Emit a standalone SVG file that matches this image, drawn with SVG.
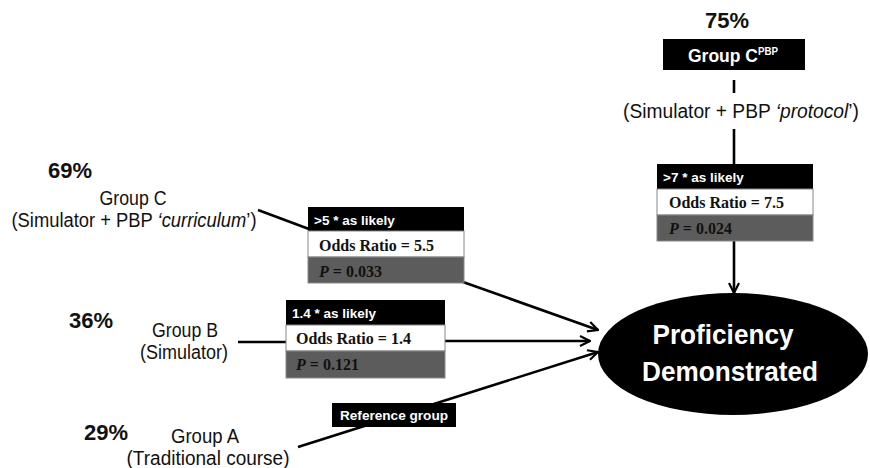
<svg xmlns="http://www.w3.org/2000/svg" width="870" height="468" viewBox="0 0 870 468">
<defs>
<marker id="arr" viewBox="0 0 12 12" refX="11" refY="6" markerWidth="12" markerHeight="12" markerUnits="userSpaceOnUse" orient="auto">
<path d="M1,1 L11,6 L1,11" fill="none" stroke="#000" stroke-width="2.2"/>
</marker>
<style>
.pct{font-family:"Liberation Sans",Arial,sans-serif;font-weight:bold;font-size:22px;fill:#111}
.lbl{font-family:"Liberation Sans",Arial,sans-serif;font-size:20px;fill:#111}
.hdr{font-family:"Liberation Sans",Arial,sans-serif;font-weight:bold;font-size:13.5px;fill:#fff}
.or{font-family:"Liberation Serif","Times New Roman",serif;font-weight:bold;font-size:16px;fill:#111}
.pv{font-family:"Liberation Serif","Times New Roman",serif;font-weight:bold;font-size:16px;fill:#111}
.blk{fill:#000}
.wht{fill:#fff;stroke:#888;stroke-width:1}
.gry{fill:#5c5c5c;stroke:#888;stroke-width:1}
.conn{stroke:#000;stroke-width:2.6;fill:none}
.big{font-family:"Liberation Sans",Arial,sans-serif;font-weight:bold;font-size:28px;fill:#fff}
</style>
</defs>
<rect width="870" height="468" fill="#fff"/>

<g id="connectors">
<line class="conn" x1="734" y1="80" x2="734" y2="93"/>
<line class="conn" x1="734" y1="129" x2="734" y2="164"/>
<line class="conn" x1="734" y1="241" x2="734" y2="293" marker-end="url(#arr)"/>
<line class="conn" x1="258" y1="210" x2="309" y2="229"/>
<line class="conn" x1="463" y1="282" x2="598" y2="330" marker-end="url(#arr)"/>
<line class="conn" x1="238" y1="342" x2="286" y2="342"/>
<line class="conn" x1="445" y1="341" x2="590" y2="341" marker-end="url(#arr)"/>
<line class="conn" x1="298" y1="447" x2="598" y2="352" marker-end="url(#arr)"/>
</g>

<g id="groupCPBP">
<text class="pct" x="727" y="28" text-anchor="middle">75%</text>
<rect class="blk" x="663" y="39" width="142" height="31"/>
<text x="733" y="62" text-anchor="middle" font-family="Liberation Sans, Arial, sans-serif" font-weight="bold" font-size="18" fill="#fff" textLength="90" lengthAdjust="spacingAndGlyphs">Group C<tspan font-size="10" dy="-7">PBP</tspan></text>
<text class="lbl" x="741" y="118" text-anchor="middle" textLength="236" lengthAdjust="spacingAndGlyphs">(Simulator + PBP <tspan font-style="italic">‘protocol</tspan>’)</text>
</g>

<g id="statsCPBP">
<rect class="blk" x="657" y="164" width="156" height="25"/>
<rect class="wht" x="657" y="189" width="156" height="26"/>
<rect class="gry" x="657" y="215" width="156" height="26"/>
<text class="hdr" x="663" y="182">&gt;7 * as likely</text>
<text class="or" x="669" y="208">Odds Ratio = 7.5</text>
<text class="pv" x="669" y="234"><tspan font-style="italic">P</tspan> = 0.024</text>
</g>

<g id="groupC">
<text class="pct" x="70" y="178" text-anchor="middle">69%</text>
<text class="lbl" x="133" y="205" text-anchor="middle" textLength="67" lengthAdjust="spacingAndGlyphs">Group C</text>
<text class="lbl" x="134" y="227" text-anchor="middle" textLength="245" lengthAdjust="spacingAndGlyphs">(Simulator + PBP <tspan font-style="italic">‘curriculum</tspan>’)</text>
</g>

<g id="statsC">
<rect class="blk" x="308" y="207" width="156" height="24"/>
<rect class="wht" x="308" y="231" width="156" height="26"/>
<rect class="gry" x="308" y="257" width="156" height="26"/>
<text class="hdr" x="314" y="225">&gt;5 * as likely</text>
<text class="or" x="319" y="251">Odds Ratio = 5.5</text>
<text class="pv" x="319" y="277"><tspan font-style="italic">P</tspan> = 0.033</text>
</g>

<g id="groupB">
<text class="pct" x="91" y="328" text-anchor="middle">36%</text>
<text class="lbl" x="185" y="337" text-anchor="middle" textLength="66" lengthAdjust="spacingAndGlyphs">Group B</text>
<text class="lbl" x="184" y="359" text-anchor="middle" textLength="88" lengthAdjust="spacingAndGlyphs">(Simulator)</text>
</g>

<g id="statsB">
<rect class="blk" x="286" y="300" width="159" height="25"/>
<rect class="wht" x="286" y="325" width="159" height="26"/>
<rect class="gry" x="286" y="351" width="159" height="27"/>
<text class="hdr" x="292" y="318">1.4 * as likely</text>
<text class="or" x="296" y="344">Odds Ratio = 1.4</text>
<text class="pv" x="296" y="370"><tspan font-style="italic">P</tspan> = 0.121</text>
</g>

<g id="groupA">
<text class="pct" x="106" y="440" text-anchor="middle">29%</text>
<text class="lbl" x="205" y="443" text-anchor="middle" textLength="68" lengthAdjust="spacingAndGlyphs">Group A</text>
<text class="lbl" x="208" y="465" text-anchor="middle" textLength="163" lengthAdjust="spacingAndGlyphs">(Traditional course)</text>
</g>

<g id="referenceLabel">
<rect class="blk" x="332" y="403" width="124" height="24"/>
<text class="hdr" x="394" y="420" text-anchor="middle" textLength="108" lengthAdjust="spacingAndGlyphs">Reference group</text>
</g>

<g id="proficiency">
<ellipse cx="733" cy="354" rx="135" ry="61" fill="#000"/>
<text class="big" x="723" y="344" text-anchor="middle" textLength="141" lengthAdjust="spacingAndGlyphs">Proficiency</text>
<text class="big" x="730" y="381" text-anchor="middle" textLength="176" lengthAdjust="spacingAndGlyphs">Demonstrated</text>
</g>
</svg>
